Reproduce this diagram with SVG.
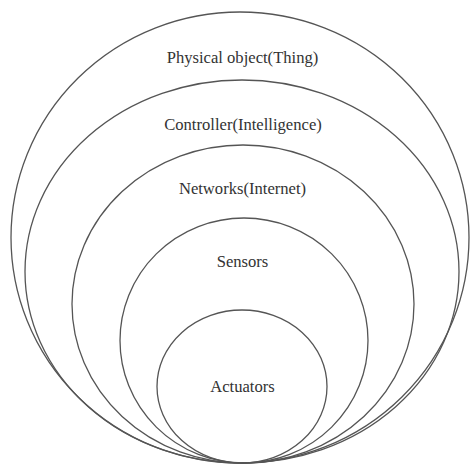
<svg xmlns="http://www.w3.org/2000/svg" width="472" height="466" viewBox="0 0 472 466">
<style>
.ring{fill:none;stroke:#555;stroke-width:1.3}
.lbl{font-family:"Liberation Serif","Times New Roman","DejaVu Serif",serif;font-size:16.6px;fill:#333;text-anchor:middle}
</style>
<rect width="472" height="466" fill="#fff"/>
<g id="physical"><ellipse class="ring" cx="240" cy="237.5" rx="229" ry="225.5"/><text class="lbl" x="242.5" y="63">Physical object(Thing)</text></g>
<g id="controller"><ellipse class="ring" cx="242" cy="271.5" rx="217" ry="191.5"/><text class="lbl" x="243" y="130">Controller(Intelligence)</text></g>
<g id="networks"><ellipse class="ring" cx="243" cy="304" rx="171" ry="159"/><text class="lbl" x="242.5" y="194">Networks(Internet)</text></g>
<g id="sensors"><ellipse class="ring" cx="244" cy="340.5" rx="124" ry="122.5"/><text class="lbl" x="242.5" y="267">Sensors</text></g>
<g id="actuators"><ellipse class="ring" cx="242" cy="386.5" rx="85" ry="76.5"/><text class="lbl" x="242.5" y="392">Actuators</text></g>
<g id="connectors"/>
</svg>
